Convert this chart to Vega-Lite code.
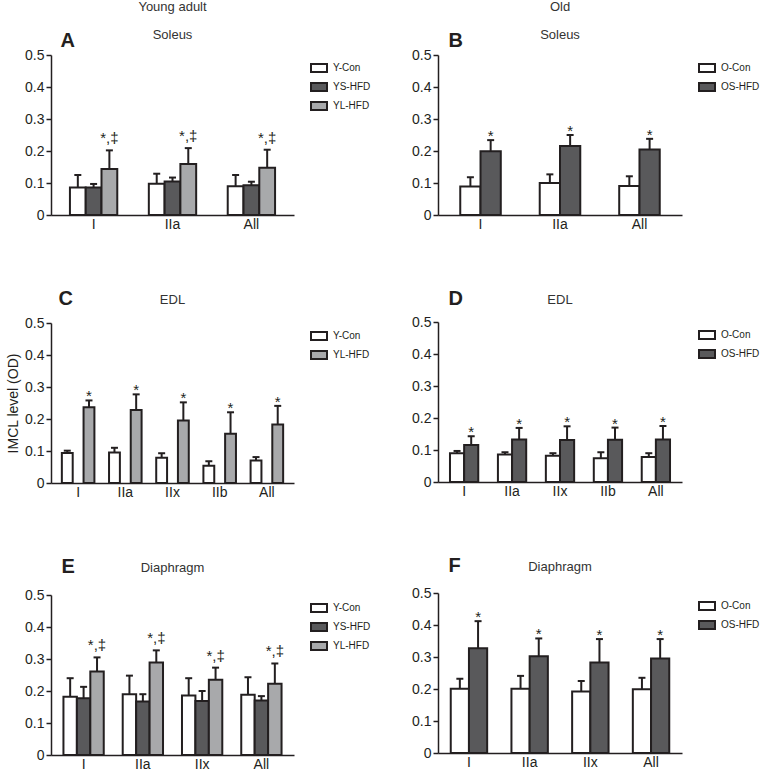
{
"$schema": "https://vega.github.io/schema/vega-lite/v6.json",
"padding": {"left": 6, "top": 1, "right": 0, "bottom": 0},
"datasets": {
 "A": [
  {"fiber":"I","group":"Y-Con","mean":0.086,"err":0.125,"sig":""},
  {"fiber":"I","group":"YS-HFD","mean":0.086,"err":0.097,"sig":""},
  {"fiber":"I","group":"YL-HFD","mean":0.144,"err":0.202,"sig":"*,‡"},
  {"fiber":"IIa","group":"Y-Con","mean":0.098,"err":0.129,"sig":""},
  {"fiber":"IIa","group":"YS-HFD","mean":0.105,"err":0.117,"sig":""},
  {"fiber":"IIa","group":"YL-HFD","mean":0.159,"err":0.209,"sig":"*,‡"},
  {"fiber":"All","group":"Y-Con","mean":0.090,"err":0.125,"sig":""},
  {"fiber":"All","group":"YS-HFD","mean":0.093,"err":0.104,"sig":""},
  {"fiber":"All","group":"YL-HFD","mean":0.148,"err":0.204,"sig":"*,‡"}
 ],
 "B": [
  {"fiber":"I","group":"O-Con","mean":0.089,"err":0.118,"sig":""},
  {"fiber":"I","group":"OS-HFD","mean":0.199,"err":0.234,"sig":"*"},
  {"fiber":"IIa","group":"O-Con","mean":0.100,"err":0.127,"sig":""},
  {"fiber":"IIa","group":"OS-HFD","mean":0.216,"err":0.250,"sig":"*"},
  {"fiber":"All","group":"O-Con","mean":0.091,"err":0.121,"sig":""},
  {"fiber":"All","group":"OS-HFD","mean":0.205,"err":0.238,"sig":"*"}
 ],
 "C": [
  {"fiber":"I","group":"Y-Con","mean":0.094,"err":0.101,"sig":""},
  {"fiber":"I","group":"YL-HFD","mean":0.237,"err":0.258,"sig":"*"},
  {"fiber":"IIa","group":"Y-Con","mean":0.095,"err":0.110,"sig":""},
  {"fiber":"IIa","group":"YL-HFD","mean":0.228,"err":0.277,"sig":"*"},
  {"fiber":"IIx","group":"Y-Con","mean":0.079,"err":0.093,"sig":""},
  {"fiber":"IIx","group":"YL-HFD","mean":0.195,"err":0.252,"sig":"*"},
  {"fiber":"IIb","group":"Y-Con","mean":0.054,"err":0.068,"sig":""},
  {"fiber":"IIb","group":"YL-HFD","mean":0.154,"err":0.221,"sig":"*"},
  {"fiber":"All","group":"Y-Con","mean":0.070,"err":0.081,"sig":""},
  {"fiber":"All","group":"YL-HFD","mean":0.183,"err":0.241,"sig":"*"}
 ],
 "D": [
  {"fiber":"I","group":"O-Con","mean":0.090,"err":0.097,"sig":""},
  {"fiber":"I","group":"OS-HFD","mean":0.116,"err":0.143,"sig":"*"},
  {"fiber":"IIa","group":"O-Con","mean":0.086,"err":0.093,"sig":""},
  {"fiber":"IIa","group":"OS-HFD","mean":0.133,"err":0.169,"sig":"*"},
  {"fiber":"IIx","group":"O-Con","mean":0.082,"err":0.090,"sig":""},
  {"fiber":"IIx","group":"OS-HFD","mean":0.131,"err":0.174,"sig":"*"},
  {"fiber":"IIb","group":"O-Con","mean":0.074,"err":0.093,"sig":""},
  {"fiber":"IIb","group":"OS-HFD","mean":0.132,"err":0.170,"sig":"*"},
  {"fiber":"All","group":"O-Con","mean":0.078,"err":0.090,"sig":""},
  {"fiber":"All","group":"OS-HFD","mean":0.133,"err":0.175,"sig":"*"}
 ],
 "E": [
  {"fiber":"I","group":"Y-Con","mean":0.182,"err":0.240,"sig":""},
  {"fiber":"I","group":"YS-HFD","mean":0.177,"err":0.213,"sig":""},
  {"fiber":"I","group":"YL-HFD","mean":0.261,"err":0.305,"sig":"*,‡"},
  {"fiber":"IIa","group":"Y-Con","mean":0.190,"err":0.248,"sig":""},
  {"fiber":"IIa","group":"YS-HFD","mean":0.167,"err":0.190,"sig":""},
  {"fiber":"IIa","group":"YL-HFD","mean":0.289,"err":0.327,"sig":"*,‡"},
  {"fiber":"IIx","group":"Y-Con","mean":0.186,"err":0.240,"sig":""},
  {"fiber":"IIx","group":"YS-HFD","mean":0.169,"err":0.200,"sig":""},
  {"fiber":"IIx","group":"YL-HFD","mean":0.235,"err":0.273,"sig":"*,‡"},
  {"fiber":"All","group":"Y-Con","mean":0.188,"err":0.243,"sig":""},
  {"fiber":"All","group":"YS-HFD","mean":0.170,"err":0.184,"sig":""},
  {"fiber":"All","group":"YL-HFD","mean":0.223,"err":0.286,"sig":"*,‡"}
 ],
 "F": [
  {"fiber":"I","group":"O-Con","mean":0.201,"err":0.232,"sig":""},
  {"fiber":"I","group":"OS-HFD","mean":0.327,"err":0.412,"sig":"*"},
  {"fiber":"IIa","group":"O-Con","mean":0.201,"err":0.241,"sig":""},
  {"fiber":"IIa","group":"OS-HFD","mean":0.302,"err":0.358,"sig":"*"},
  {"fiber":"IIx","group":"O-Con","mean":0.192,"err":0.225,"sig":""},
  {"fiber":"IIx","group":"OS-HFD","mean":0.283,"err":0.356,"sig":"*"},
  {"fiber":"All","group":"O-Con","mean":0.199,"err":0.235,"sig":""},
  {"fiber":"All","group":"OS-HFD","mean":0.295,"err":0.356,"sig":"*"}
 ]
},
"hconcat": [
 {
  "spacing": 57,
  "vconcat": [
   {
    "data": {"name": "A"}, "width": 243, "height": 160,
    "title": {"text": ["Young adult", "Soleus"], "lineHeight": 28, "offset": -12},
    "encoding": {
     "x": {"field": "fiber", "type": "nominal", "sort": ["I","IIa","All"], "scale": {"paddingInner": 0.4, "paddingOuter": 0.24}, "axis": null},
     "xOffset": {"field": "group", "type": "nominal", "scale": {"domain": ["Y-Con","YS-HFD","YL-HFD"], "paddingInner": 0}}
    },
    "layer": [
     {"mark": {"type": "bar", "stroke": "#231f20", "strokeWidth": 2},
      "encoding": {
       "x": {"field": "fiber", "type": "nominal", "sort": ["I","IIa","All"], "scale": {"paddingInner": 0.4, "paddingOuter": 0.24}, "axis": {"orient": "bottom", "title": null}},
       "y": {"field": "mean", "type": "quantitative", "scale": {"domain": [0, 0.5]}, "axis": {"title": null, "values": [0,0.1,0.2,0.3,0.4,0.5], "labelOverlap": false, "labelExpr": "datum.value == 0 ? '0' : format(datum.value, '.1f')"}},
       "color": {"field": "group", "type": "nominal", "scale": {"domain": ["Y-Con","YS-HFD","YL-HFD"], "range": ["#ffffff","#59595b","#a8a9ab"]}, "legend": {}}
      }},
     {"mark": {"type": "rule", "stroke": "#231f20", "strokeWidth": 2},
      "encoding": {"y": {"field": "mean", "type": "quantitative", "axis": {"title": null, "values": [0,0.1,0.2,0.3,0.4,0.5], "labelOverlap": false, "labelExpr": "datum.value == 0 ? '0' : format(datum.value, '.1f')"}}, "y2": {"field": "err"}}},
     {"mark": {"type": "tick", "color": "#231f20", "thickness": 2, "size": 7, "opacity": 1},
      "encoding": {"y": {"field": "err", "type": "quantitative", "axis": {"title": null, "values": [0,0.1,0.2,0.3,0.4,0.5], "labelOverlap": false, "labelExpr": "datum.value == 0 ? '0' : format(datum.value, '.1f')"}}}},
     {"mark": {"type": "text", "baseline": "alphabetic", "dy": -7, "fontSize": 15, "color": "#231f20"},
      "encoding": {
       "x": {"field": "fiber", "type": "nominal", "sort": ["I","IIa","All"], "axis": {"orient": "top", "title": "A", "titleX": 9, "titleY": -9, "titleAlign": "left", "titleBaseline": "alphabetic", "titleFontSize": 20, "titleFontWeight": "bold", "labels": false, "ticks": false, "domain": false}},
       "y": {"field": "err", "type": "quantitative", "axis": {"title": null, "values": [0,0.1,0.2,0.3,0.4,0.5], "labelOverlap": false, "labelExpr": "datum.value == 0 ? '0' : format(datum.value, '.1f')"}}, "text": {"field": "sig"}}}
    ],
    "resolve": {"axis": {"x": "independent"}}
   },
   {
    "data": {"name": "C"}, "width": 243, "height": 160,
    "title": {"text": "EDL", "offset": -19},
    "encoding": {
     "x": {"field": "fiber", "type": "nominal", "sort": ["I","IIa","IIx","IIb","All"], "scale": {"paddingInner": 0.31, "paddingOuter": 0.23}, "axis": null},
     "xOffset": {"field": "group", "type": "nominal", "scale": {"domain": ["Y-Con","YS-HFD","YL-HFD"], "paddingInner": 0}}
    },
    "layer": [
     {"mark": {"type": "bar", "stroke": "#231f20", "strokeWidth": 2},
      "encoding": {
       "x": {"field": "fiber", "type": "nominal", "sort": ["I","IIa","IIx","IIb","All"], "scale": {"paddingInner": 0.31, "paddingOuter": 0.23}, "axis": {"orient": "bottom", "title": null}},
       "y": {"field": "mean", "type": "quantitative", "scale": {"domain": [0, 0.5]}, "axis": {"title": "IMCL level (OD)", "values": [0,0.1,0.2,0.3,0.4,0.5], "labelOverlap": false, "labelExpr": "datum.value == 0 ? '0' : format(datum.value, '.1f')"}},
       "color": {"field": "group", "type": "nominal", "scale": {"domain": ["Y-Con","YL-HFD"], "range": ["#ffffff","#a8a9ab"]}, "legend": {}}
      }},
     {"mark": {"type": "rule", "stroke": "#231f20", "strokeWidth": 2},
      "encoding": {"y": {"field": "mean", "type": "quantitative", "axis": {"title": "IMCL level (OD)", "values": [0,0.1,0.2,0.3,0.4,0.5], "labelOverlap": false, "labelExpr": "datum.value == 0 ? '0' : format(datum.value, '.1f')"}}, "y2": {"field": "err"}}},
     {"mark": {"type": "tick", "color": "#231f20", "thickness": 2, "size": 7, "opacity": 1},
      "encoding": {"y": {"field": "err", "type": "quantitative", "axis": {"title": "IMCL level (OD)", "values": [0,0.1,0.2,0.3,0.4,0.5], "labelOverlap": false, "labelExpr": "datum.value == 0 ? '0' : format(datum.value, '.1f')"}}}},
     {"mark": {"type": "text", "baseline": "alphabetic", "dy": 1, "fontSize": 15, "color": "#231f20"},
      "encoding": {
       "x": {"field": "fiber", "type": "nominal", "sort": ["I","IIa","IIx","IIb","All"], "axis": {"orient": "top", "title": "C", "titleX": 7, "titleY": -19, "titleAlign": "left", "titleBaseline": "alphabetic", "titleFontSize": 20, "titleFontWeight": "bold", "labels": false, "ticks": false, "domain": false}},
       "y": {"field": "err", "type": "quantitative", "axis": {"title": "IMCL level (OD)", "values": [0,0.1,0.2,0.3,0.4,0.5], "labelOverlap": false, "labelExpr": "datum.value == 0 ? '0' : format(datum.value, '.1f')"}}, "text": {"field": "sig"}}}
    ],
    "resolve": {"axis": {"x": "independent"}}
   },
   {
    "data": {"name": "E"}, "width": 243, "height": 160,
    "title": {"text": "Diaphragm", "offset": -19},
    "encoding": {
     "x": {"field": "fiber", "type": "nominal", "sort": ["I","IIa","IIx","All"], "scale": {"paddingInner": 0.32, "paddingOuter": 0.21}, "axis": null},
     "xOffset": {"field": "group", "type": "nominal", "scale": {"domain": ["Y-Con","YS-HFD","YL-HFD"], "paddingInner": 0}}
    },
    "layer": [
     {"mark": {"type": "bar", "stroke": "#231f20", "strokeWidth": 2},
      "encoding": {
       "x": {"field": "fiber", "type": "nominal", "sort": ["I","IIa","IIx","All"], "scale": {"paddingInner": 0.32, "paddingOuter": 0.21}, "axis": {"orient": "bottom", "title": null}},
       "y": {"field": "mean", "type": "quantitative", "scale": {"domain": [0, 0.5]}, "axis": {"title": null, "values": [0,0.1,0.2,0.3,0.4,0.5], "labelOverlap": false, "labelExpr": "datum.value == 0 ? '0' : format(datum.value, '.1f')"}},
       "color": {"field": "group", "type": "nominal", "scale": {"domain": ["Y-Con","YS-HFD","YL-HFD"], "range": ["#ffffff","#59595b","#a8a9ab"]}, "legend": {}}
      }},
     {"mark": {"type": "rule", "stroke": "#231f20", "strokeWidth": 2},
      "encoding": {"y": {"field": "mean", "type": "quantitative", "axis": {"title": null, "values": [0,0.1,0.2,0.3,0.4,0.5], "labelOverlap": false, "labelExpr": "datum.value == 0 ? '0' : format(datum.value, '.1f')"}}, "y2": {"field": "err"}}},
     {"mark": {"type": "tick", "color": "#231f20", "thickness": 2, "size": 7, "opacity": 1},
      "encoding": {"y": {"field": "err", "type": "quantitative", "axis": {"title": null, "values": [0,0.1,0.2,0.3,0.4,0.5], "labelOverlap": false, "labelExpr": "datum.value == 0 ? '0' : format(datum.value, '.1f')"}}}},
     {"mark": {"type": "text", "baseline": "alphabetic", "dy": -7, "fontSize": 15, "color": "#231f20"},
      "encoding": {
       "x": {"field": "fiber", "type": "nominal", "sort": ["I","IIa","IIx","All"], "axis": {"orient": "top", "title": "E", "titleX": 10, "titleY": -23, "titleAlign": "left", "titleBaseline": "alphabetic", "titleFontSize": 20, "titleFontWeight": "bold", "labels": false, "ticks": false, "domain": false}},
       "y": {"field": "err", "type": "quantitative", "axis": {"title": null, "values": [0,0.1,0.2,0.3,0.4,0.5], "labelOverlap": false, "labelExpr": "datum.value == 0 ? '0' : format(datum.value, '.1f')"}}, "text": {"field": "sig"}}}
    ],
    "resolve": {"axis": {"x": "independent"}}
   }
  ],
  "resolve": {"scale": {"color": "independent", "x": "independent", "xOffset": "independent", "y": "independent"}, "legend": {"color": "independent"}}
 },
 {
  "spacing": 57,
  "vconcat": [
   {
    "data": {"name": "B"}, "width": 244, "height": 160,
    "title": {"text": ["Old", "Soleus"], "lineHeight": 28, "offset": -12},
    "encoding": {
     "x": {"field": "fiber", "type": "nominal", "sort": ["I","IIa","All"], "scale": {"paddingInner": 0.49, "paddingOuter": 0.28}, "axis": null},
     "xOffset": {"field": "group", "type": "nominal", "scale": {"domain": ["O-Con","OS-HFD"], "paddingInner": 0}}
    },
    "layer": [
     {"mark": {"type": "bar", "stroke": "#231f20", "strokeWidth": 2},
      "encoding": {
       "x": {"field": "fiber", "type": "nominal", "sort": ["I","IIa","All"], "scale": {"paddingInner": 0.49, "paddingOuter": 0.28}, "axis": {"orient": "bottom", "title": null}},
       "y": {"field": "mean", "type": "quantitative", "scale": {"domain": [0, 0.5]}, "axis": {"title": null, "values": [0,0.1,0.2,0.3,0.4,0.5], "labelOverlap": false, "labelExpr": "datum.value == 0 ? '0' : format(datum.value, '.1f')"}},
       "color": {"field": "group", "type": "nominal", "scale": {"domain": ["O-Con","OS-HFD"], "range": ["#ffffff","#59595b"]}, "legend": {}}
      }},
     {"mark": {"type": "rule", "stroke": "#231f20", "strokeWidth": 2},
      "encoding": {"y": {"field": "mean", "type": "quantitative", "axis": {"title": null, "values": [0,0.1,0.2,0.3,0.4,0.5], "labelOverlap": false, "labelExpr": "datum.value == 0 ? '0' : format(datum.value, '.1f')"}}, "y2": {"field": "err"}}},
     {"mark": {"type": "tick", "color": "#231f20", "thickness": 2, "size": 7, "opacity": 1},
      "encoding": {"y": {"field": "err", "type": "quantitative", "axis": {"title": null, "values": [0,0.1,0.2,0.3,0.4,0.5], "labelOverlap": false, "labelExpr": "datum.value == 0 ? '0' : format(datum.value, '.1f')"}}}},
     {"mark": {"type": "text", "baseline": "alphabetic", "dy": 1, "fontSize": 15, "color": "#231f20"},
      "encoding": {
       "x": {"field": "fiber", "type": "nominal", "sort": ["I","IIa","All"], "axis": {"orient": "top", "title": "B", "titleX": 10, "titleY": -9, "titleAlign": "left", "titleBaseline": "alphabetic", "titleFontSize": 20, "titleFontWeight": "bold", "labels": false, "ticks": false, "domain": false}},
       "y": {"field": "err", "type": "quantitative", "axis": {"title": null, "values": [0,0.1,0.2,0.3,0.4,0.5], "labelOverlap": false, "labelExpr": "datum.value == 0 ? '0' : format(datum.value, '.1f')"}}, "text": {"field": "sig"}}}
    ],
    "resolve": {"axis": {"x": "independent"}}
   },
   {
    "data": {"name": "D"}, "width": 244, "height": 160,
    "title": {"text": "EDL", "offset": -19},
    "encoding": {
     "x": {"field": "fiber", "type": "nominal", "sort": ["I","IIa","IIx","IIb","All"], "scale": {"paddingInner": 0.41, "paddingOuter": 0.25}, "axis": null},
     "xOffset": {"field": "group", "type": "nominal", "scale": {"domain": ["O-Con","OS-HFD"], "paddingInner": 0}}
    },
    "layer": [
     {"mark": {"type": "bar", "stroke": "#231f20", "strokeWidth": 2},
      "encoding": {
       "x": {"field": "fiber", "type": "nominal", "sort": ["I","IIa","IIx","IIb","All"], "scale": {"paddingInner": 0.41, "paddingOuter": 0.25}, "axis": {"orient": "bottom", "title": null}},
       "y": {"field": "mean", "type": "quantitative", "scale": {"domain": [0, 0.5]}, "axis": {"title": null, "values": [0,0.1,0.2,0.3,0.4,0.5], "labelOverlap": false, "labelExpr": "datum.value == 0 ? '0' : format(datum.value, '.1f')"}},
       "color": {"field": "group", "type": "nominal", "scale": {"domain": ["O-Con","OS-HFD"], "range": ["#ffffff","#59595b"]}, "legend": {}}
      }},
     {"mark": {"type": "rule", "stroke": "#231f20", "strokeWidth": 2},
      "encoding": {"y": {"field": "mean", "type": "quantitative", "axis": {"title": null, "values": [0,0.1,0.2,0.3,0.4,0.5], "labelOverlap": false, "labelExpr": "datum.value == 0 ? '0' : format(datum.value, '.1f')"}}, "y2": {"field": "err"}}},
     {"mark": {"type": "tick", "color": "#231f20", "thickness": 2, "size": 7, "opacity": 1},
      "encoding": {"y": {"field": "err", "type": "quantitative", "axis": {"title": null, "values": [0,0.1,0.2,0.3,0.4,0.5], "labelOverlap": false, "labelExpr": "datum.value == 0 ? '0' : format(datum.value, '.1f')"}}}},
     {"mark": {"type": "text", "baseline": "alphabetic", "dy": 1, "fontSize": 15, "color": "#231f20"},
      "encoding": {
       "x": {"field": "fiber", "type": "nominal", "sort": ["I","IIa","IIx","IIb","All"], "axis": {"orient": "top", "title": "D", "titleX": 10, "titleY": -18, "titleAlign": "left", "titleBaseline": "alphabetic", "titleFontSize": 20, "titleFontWeight": "bold", "labels": false, "ticks": false, "domain": false}},
       "y": {"field": "err", "type": "quantitative", "axis": {"title": null, "values": [0,0.1,0.2,0.3,0.4,0.5], "labelOverlap": false, "labelExpr": "datum.value == 0 ? '0' : format(datum.value, '.1f')"}}, "text": {"field": "sig"}}}
    ],
    "resolve": {"axis": {"x": "independent"}}
   },
   {
    "data": {"name": "F"}, "width": 244, "height": 160,
    "title": {"text": "Diaphragm", "offset": -19},
    "encoding": {
     "x": {"field": "fiber", "type": "nominal", "sort": ["I","IIa","IIx","All"], "scale": {"paddingInner": 0.4, "paddingOuter": 0.21}, "axis": null},
     "xOffset": {"field": "group", "type": "nominal", "scale": {"domain": ["O-Con","OS-HFD"], "paddingInner": 0}}
    },
    "layer": [
     {"mark": {"type": "bar", "stroke": "#231f20", "strokeWidth": 2},
      "encoding": {
       "x": {"field": "fiber", "type": "nominal", "sort": ["I","IIa","IIx","All"], "scale": {"paddingInner": 0.4, "paddingOuter": 0.21}, "axis": {"orient": "bottom", "title": null}},
       "y": {"field": "mean", "type": "quantitative", "scale": {"domain": [0, 0.5]}, "axis": {"title": null, "values": [0,0.1,0.2,0.3,0.4,0.5], "labelOverlap": false, "labelExpr": "datum.value == 0 ? '0' : format(datum.value, '.1f')"}},
       "color": {"field": "group", "type": "nominal", "scale": {"domain": ["O-Con","OS-HFD"], "range": ["#ffffff","#59595b"]}, "legend": {}}
      }},
     {"mark": {"type": "rule", "stroke": "#231f20", "strokeWidth": 2},
      "encoding": {"y": {"field": "mean", "type": "quantitative", "axis": {"title": null, "values": [0,0.1,0.2,0.3,0.4,0.5], "labelOverlap": false, "labelExpr": "datum.value == 0 ? '0' : format(datum.value, '.1f')"}}, "y2": {"field": "err"}}},
     {"mark": {"type": "tick", "color": "#231f20", "thickness": 2, "size": 7, "opacity": 1},
      "encoding": {"y": {"field": "err", "type": "quantitative", "axis": {"title": null, "values": [0,0.1,0.2,0.3,0.4,0.5], "labelOverlap": false, "labelExpr": "datum.value == 0 ? '0' : format(datum.value, '.1f')"}}}},
     {"mark": {"type": "text", "baseline": "alphabetic", "dy": 1, "fontSize": 15, "color": "#231f20"},
      "encoding": {
       "x": {"field": "fiber", "type": "nominal", "sort": ["I","IIa","IIx","All"], "axis": {"orient": "top", "title": "F", "titleX": 10, "titleY": -22, "titleAlign": "left", "titleBaseline": "alphabetic", "titleFontSize": 20, "titleFontWeight": "bold", "labels": false, "ticks": false, "domain": false}},
       "y": {"field": "err", "type": "quantitative", "axis": {"title": null, "values": [0,0.1,0.2,0.3,0.4,0.5], "labelOverlap": false, "labelExpr": "datum.value == 0 ? '0' : format(datum.value, '.1f')"}}, "text": {"field": "sig"}}}
    ],
    "resolve": {"axis": {"x": "independent"}}
   }
  ],
  "resolve": {"scale": {"color": "independent", "x": "independent", "xOffset": "independent", "y": "independent"}, "legend": {"color": "independent"}}
 }
],
"spacing": 36,
"resolve": {"scale": {"color": "independent", "x": "independent", "xOffset": "independent", "y": "independent"}, "legend": {"color": "independent"}},
"config": {
 "font": "Liberation Sans",
 "view": {"stroke": null},
 "axis": {"grid": false, "domainColor": "#231f20", "domainWidth": 1.5, "tickColor": "#231f20", "tickWidth": 1.5, "tickSize": 5, "labelColor": "#231f20", "labelFontSize": 14, "labelFont": "Liberation Sans", "labelPadding": 2, "titleFont": "Liberation Sans", "titleFontSize": 14, "titleFontWeight": "normal", "titleColor": "#231f20"},
 "axisX": {"ticks": false, "labelAngle": 0, "labelPadding": 2},
 "title": {"font": "Liberation Sans", "fontSize": 13, "fontWeight": "normal", "color": "#333333", "anchor": "middle", "frame": "group"},
 "legend": {"title": null, "orient": "right", "offset": 12, "padding": 4, "symbolType": "M-1,-0.5H1V0.5H-1Z", "symbolSize": 256, "symbolStrokeColor": "#231f20", "symbolStrokeWidth": 2, "symbolOpacity": 1, "labelFontSize": 10, "labelFont": "Liberation Sans", "labelColor": "#231f20", "labelOffset": 5, "rowPadding": 2},
 "tick": {"bandSize": 7}
}
}
